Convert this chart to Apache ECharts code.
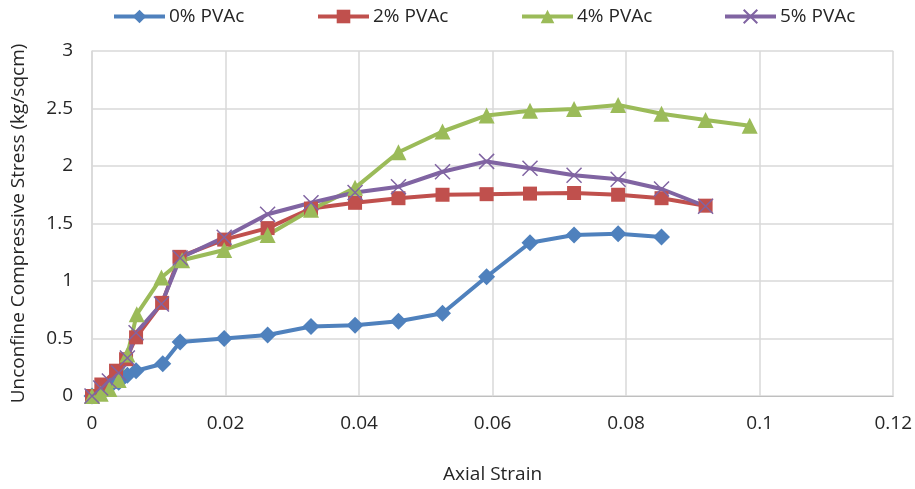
<!DOCTYPE html>
<html>
<head>
<meta charset="utf-8">
<script src="https://cdn.jsdelivr.net/npm/echarts@6/dist/echarts.min.js"></script>
<style>
  html, body { margin: 0; padding: 0; background: #fff; }
  #chart { width: 915px; height: 489px; }
</style>
</head>
<body>
<div id="chart"></div>
<script>
// Axial strain readings for each mix
const strain0 = [0, 0.0013, 0.0026, 0.004, 0.0053, 0.0066, 0.0106, 0.0132, 0.0198, 0.0263, 0.0328, 0.0394, 0.0459, 0.0525, 0.0591, 0.0656, 0.0722, 0.0788, 0.0853];
const strain2 = [0, 0.0014, 0.0036, 0.0051, 0.0066, 0.0105, 0.0131, 0.0198, 0.0263, 0.0328, 0.0394, 0.0459, 0.0525, 0.0591, 0.0656, 0.0722, 0.0788, 0.0853, 0.0919];
const strain4 = [0, 0.0013, 0.0026, 0.004, 0.0053, 0.0067, 0.0104, 0.0135, 0.0198, 0.0263, 0.0328, 0.0394, 0.0459, 0.0525, 0.0591, 0.0656, 0.0722, 0.0788, 0.0853, 0.0919, 0.0985];
const strain5 = [0, 0.0013, 0.0026, 0.004, 0.0053, 0.0066, 0.0104, 0.0132, 0.0198, 0.0263, 0.0328, 0.0394, 0.0459, 0.0525, 0.0591, 0.0656, 0.0722, 0.0788, 0.0853, 0.0919];

// Unconfined compressive stress (kg/sqcm)
const stress0 = [0, 0.04, 0.08, 0.12, 0.18, 0.22, 0.28, 0.47, 0.50, 0.53, 0.605, 0.615, 0.65, 0.72, 1.037, 1.333, 1.40, 1.41, 1.383];
const stress2 = [0, 0.10, 0.22, 0.32, 0.51, 0.81, 1.21, 1.36, 1.46, 1.63, 1.68, 1.72, 1.75, 1.755, 1.76, 1.765, 1.75, 1.72, 1.655];
const stress4 = [0, 0.02, 0.06, 0.14, 0.36, 0.71, 1.03, 1.18, 1.27, 1.40, 1.62, 1.81, 2.12, 2.30, 2.44, 2.48, 2.495, 2.53, 2.455, 2.40, 2.35];
const stress5 = [0, 0.07, 0.13, 0.20, 0.33, 0.55, 0.80, 1.20, 1.38, 1.58, 1.68, 1.77, 1.82, 1.95, 2.04, 1.98, 1.92, 1.885, 1.80, 1.65];

const seriesNames = ['0% PVAc', '2% PVAc', '4% PVAc', '5% PVAc'];
const colors = ['#4F81BD', '#C0504D', '#9BBB59', '#8064A2'];

const xTicks = { min: 0, max: 0.12, interval: 0.02 };
const yTicks = { min: 0, max: 3, interval: 0.5 };

const font = '"Open Sans", "Noto Sans", sans-serif';
const textColor = '#262626';
const gridColor = '#d9d9d9';

function pairs(xs, ys) {
  return xs.map((x, i) => [x, ys[i]]);
}

const crossPath = 'path://M0,0L10,10M10,0L0,10';

// one legend entry per block, spaced evenly along the top
const legendLefts = [107, 311, 515, 718];
const legends = seriesNames.map((name, i) => ({
  top: 2,
  left: legendLefts[i],
  itemWidth: 51,
  itemHeight: 17,
  itemGap: 0,
  lineStyle: { width: 4 },
  textStyle: { fontFamily: font, fontSize: 19, color: textColor, padding: [0, 0, 0, -1] },
  data: [name]
}));

const chart = echarts.init(document.getElementById('chart'), null, { renderer: 'canvas' });

chart.setOption({
  animation: false,
  color: colors,
  textStyle: { fontFamily: font },
  legend: legends,
  grid: { left: 92, right: 20, top: 51, bottom: 91 },
  xAxis: {
    type: 'value',
    min: xTicks.min,
    max: xTicks.max,
    interval: xTicks.interval,
    name: 'Axial Strain',
    nameLocation: 'middle',
    nameGap: 69,
    nameTextStyle: { fontFamily: font, fontSize: 19, color: textColor },
    axisLine: { show: true, lineStyle: { color: '#bfbfbf', width: 1 } },
    axisTick: { show: false },
    axisLabel: { margin: 18, fontFamily: font, fontSize: 19, color: textColor },
    splitLine: { show: true, lineStyle: { color: gridColor, width: 1.5 } }
  },
  yAxis: {
    type: 'value',
    min: yTicks.min,
    max: yTicks.max,
    interval: yTicks.interval,
    name: 'Unconfine Compressive Stress (kg/sqcm)',
    nameLocation: 'middle',
    nameGap: 64,
    nameTextStyle: { fontFamily: font, fontSize: 19, color: textColor },
    axisLine: { show: true, lineStyle: { color: gridColor, width: 1.5 } },
    axisTick: { show: false },
    axisLabel: { margin: 19, fontFamily: font, fontSize: 19, color: textColor },
    splitLine: { show: true, lineStyle: { color: gridColor, width: 1.5 } }
  },
  series: [
    {
      name: seriesNames[0],
      type: 'line',
      data: pairs(strain0, stress0),
      symbol: 'diamond',
      symbolSize: 17,
      showAllSymbol: true,
      lineStyle: { width: 4, color: colors[0] },
      itemStyle: { color: colors[0] }
    },
    {
      name: seriesNames[1],
      type: 'line',
      data: pairs(strain2, stress2),
      symbol: 'rect',
      symbolSize: 14,
      showAllSymbol: true,
      lineStyle: { width: 4, color: colors[1] },
      itemStyle: { color: colors[1] }
    },
    {
      name: seriesNames[2],
      type: 'line',
      data: pairs(strain4, stress4),
      symbol: 'triangle',
      symbolSize: 16,
      showAllSymbol: true,
      lineStyle: { width: 4, color: colors[2] },
      itemStyle: { color: colors[2] }
    },
    {
      name: seriesNames[3],
      type: 'line',
      data: pairs(strain5, stress5),
      symbol: crossPath,
      symbolSize: 15,
      showAllSymbol: true,
      lineStyle: { width: 4, color: colors[3] },
      itemStyle: { color: colors[3], borderColor: colors[3], borderWidth: 1.5 }
    }
  ]
});
</script>
</body>
</html>
